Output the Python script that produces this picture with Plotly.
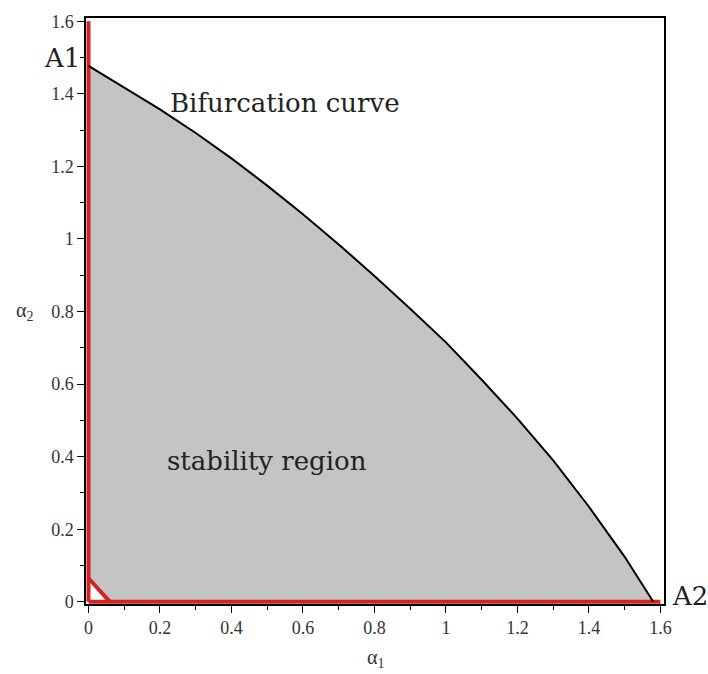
import plotly.graph_objects as go

# Bifurcation curve alpha2(alpha1)
alpha1 = [0.0, 0.1, 0.2, 0.3, 0.4, 0.5, 0.6, 0.7, 0.8, 0.9, 1.0, 1.1, 1.2, 1.3, 1.4, 1.5, 1.58]
alpha2 = [1.477, 1.418, 1.357, 1.292, 1.222, 1.147, 1.068, 0.985, 0.898, 0.808, 0.715, 0.612, 0.505, 0.390, 0.262, 0.124, 0.0]

# Boundary segments (red)
left_x, left_y = [0.0, 0.0], [0.0, 1.6]
bottom_x, bottom_y = [0.0, 1.6], [0.0, 0.0]
corner_x, corner_y = [0.0, 0.06], [0.065, 0.0]

GRAY = "#c4c4c4"
RED = "#d42222"
TXT_FONT = "DejaVu Serif"
TICK_FONT = "Liberation Serif"

fig = go.Figure()

# shaded stability region, bounded by the axes, the corner cut and the curve
fig.add_trace(go.Scatter(
    x=[corner_x[0]] + alpha1 + [corner_x[1]],
    y=[corner_y[0]] + alpha2 + [corner_y[1]],
    fill="toself", fillcolor=GRAY, mode="lines", line=dict(width=0),
    hoverinfo="skip", showlegend=False))

for xs, ys in [(left_x, left_y), (bottom_x, bottom_y), (corner_x, corner_y)]:
    fig.add_trace(go.Scatter(x=xs, y=ys, mode="lines",
                             line=dict(color=RED, width=4),
                             hoverinfo="skip", showlegend=False))

fig.add_trace(go.Scatter(x=alpha1, y=alpha2, mode="lines",
                         line=dict(color="black", width=2),
                         hoverinfo="skip", showlegend=False))

axis_common = dict(
    showline=True, linecolor="black", linewidth=1.5, mirror=True,
    showgrid=False, zeroline=False,
    ticks="outside", ticklen=7, tickwidth=1, tickcolor="black",
    tick0=0, dtick=0.2,
    minor=dict(ticks="outside", ticklen=4, dtick=0.1, tick0=0, tickcolor="black", tickwidth=1),
    tickfont=dict(family=TICK_FONT, size=18, color="#333333"),
)

fig.update_xaxes(range=[-0.007, 1.61], **axis_common)
fig.update_yaxes(range=[-0.006, 1.609], **axis_common)

label_font = dict(family=TXT_FONT, size=26, color="#222222")
fig.add_annotation(x=0.222, y=1.375, text="Bifurcation curve", showarrow=False,
                   xanchor="left", yanchor="middle", font=label_font)
fig.add_annotation(x=0.214, y=0.387, text="stability region", showarrow=False,
                   xanchor="left", yanchor="middle", font=label_font)

# A1 / A2 endpoint labels and axis titles
fig.add_annotation(x=0, y=1.5, xref="paper", yref="y", text="A1", showarrow=False,
                   xanchor="right", yanchor="middle", xshift=-4, font=label_font)
fig.add_annotation(x=1, y=0.015, xref="paper", yref="y", text="A2", showarrow=False,
                   xanchor="left", yanchor="middle", xshift=6, font=label_font)
fig.add_annotation(x=0.5, y=0, xref="paper", yref="paper", text="α<sub>1</sub>",
                   showarrow=False, xanchor="center", yanchor="top", yshift=-40,
                   font=dict(family=TICK_FONT, size=20, color="#333333"))
fig.add_annotation(x=0, y=0.5, xref="paper", yref="paper", text="α<sub>2</sub>",
                   showarrow=False, xanchor="center", yanchor="middle", xshift=-62,
                   font=dict(family=TICK_FONT, size=20, color="#333333"))

fig.update_layout(
    width=708, height=674,
    margin=dict(l=86, r=44, t=13, b=70),
    paper_bgcolor="white", plot_bgcolor="white",
    showlegend=False,
)

fig.write_html("out.html")
